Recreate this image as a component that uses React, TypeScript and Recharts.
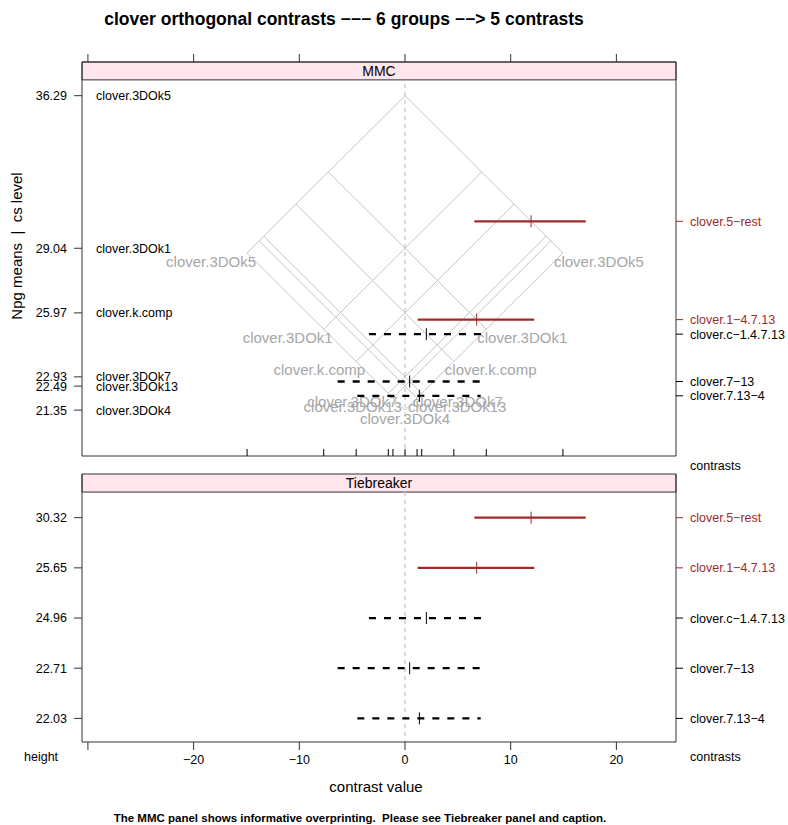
import { ScatterChart, Scatter, XAxis, YAxis, ReferenceLine, ReferenceArea } from 'recharts';

// group means (MMC panel, left axis)
const groupNames = ['clover.3DOk5', 'clover.3DOk1', 'clover.k.comp', 'clover.3DOk7', 'clover.3DOk13', 'clover.3DOk4'];
const groupMeans = [36.29, 29.04, 25.97, 22.93, 22.49, 21.35];

// contrasts (right axis)
const contrastNames = ['clover.5\u2212rest', 'clover.1\u22124.7.13', 'clover.c\u22121.4.7.13', 'clover.7\u221213', 'clover.7.13\u22124'];
const contrastEst = [11.93, 6.78, 2.02, 0.44, 1.36];
const contrastLower = [6.56, 1.2, -3.41, -6.37, -4.51];
const contrastUpper = [17.1, 12.23, 7.47, 7.26, 7.16];
const contrastHeight = [30.32, 25.65, 24.96, 22.71, 22.03];
const contrastSignif = [true, true, false, false, false];

const xTicks = [-30, -20, -10, 0, 10, 20];

const X_DOMAIN: [number, number] = [-30.56, 25.64];
const MMC_Y: [number, number] = [19.17, 37.89];
const MMC_STRIP = 37.04;
const TB_Y: [number, number] = [0.13, 5.47];
const TB_STRIP = 0.49;

const RED = '#9E2B2B';
const GRID = '#c4c4c4';
const AXIS = '#333';
const STRIP_FILL = '#FFE5EC';
const FONT = '"Liberation Sans", Arial, Helvetica, sans-serif';

const maxMean = Math.max(...groupMeans);
const minMean = Math.min(...groupMeans);

// isomeans grid: one pair of 45 degree lines per group
const isoSegments = groupMeans.flatMap((m) => [
    [{ x: m - maxMean, y: (m + maxMean) / 2 }, { x: m - minMean, y: (m + minMean) / 2 }],
    [{ x: maxMean - m, y: (m + maxMean) / 2 }, { x: minMean - m, y: (m + minMean) / 2 }],
]);

const isoLabels = groupNames.flatMap((name, i) => {
    const d = groupMeans[i] - minMean;
    const y = (groupMeans[i] + minMean) / 2;
    if (d === 0) return [{ x: 0, y, name, anchor: 'middle' }];
    return [
        { x: -d, y, name, anchor: 'end' },
        { x: d, y, name, anchor: 'start' },
    ];
});

const rug = groupMeans.flatMap((m) => {
    const d = m - minMean;
    return d === 0 ? [{ x: 0, y: MMC_Y[0] }] : [{ x: -d, y: MMC_Y[0] }, { x: d, y: MMC_Y[0] }];
});

const groupLabelPts = groupNames.map((name, i) => ({ x: X_DOMAIN[0], y: groupMeans[i], name }));

const mmcCenters = contrastNames.map((name, i) => ({ x: contrastEst[i], y: contrastHeight[i], i }));
const tbCenters = contrastNames.map((name, i) => ({ x: contrastEst[i], y: i + 1, i }));
const tbRows = contrastNames.map((_, i) => i + 1);

// eslint-disable-next-line @typescript-eslint/no-explicit-any
const CenterTick = (props: any) => {
    const { cx, cy, payload } = props;
    const col = contrastSignif[payload.i] ? RED : '#000';
    return <line x1={cx} x2={cx} y1={cy - 6} y2={cy + 6} stroke={col} strokeWidth={1} />;
};

// eslint-disable-next-line @typescript-eslint/no-explicit-any
const RugTick = (props: any) => <line x1={props.cx} x2={props.cx} y1={props.cy} y2={props.cy - 7} stroke="#000" strokeWidth={1} />;

// eslint-disable-next-line @typescript-eslint/no-explicit-any
const IsoLabel = (props: any) => {
    const { cx, cy, payload } = props;
    const dx = payload.anchor === 'end' ? 9 : payload.anchor === 'start' ? -9 : 0;
    return (
        <text x={cx + dx} y={cy + 14} textAnchor={payload.anchor} fontSize={15} fill="#a6a6a6">
            {payload.name}
        </text>
    );
};

// eslint-disable-next-line @typescript-eslint/no-explicit-any
const GroupLabel = (props: any) => (
    <text x={props.cx + 14} y={props.cy + 4.5} fontSize={12.5} fill="#000">
        {props.payload.name}
    </text>
);

// right-hand contrast names, coloured like their intervals
const contrastTick = (byIndex: boolean) =>
    // eslint-disable-next-line @typescript-eslint/no-explicit-any
    (props: any) => {
        const { x, y, payload } = props;
        const i = byIndex ? payload.value - 1 : contrastHeight.indexOf(payload.value);
        const col = contrastSignif[i] ? RED : '#000';
        return (
            <g>
                <line x1={x - 14} x2={x - 7} y1={y} y2={y} stroke={col} />
                <text x={x} y={y + 4.5} fontSize={12.5} fill={col} textAnchor="start">
                    {contrastNames[i]}
                </text>
            </g>
        );
    };

const fmtX = (v: number) => (v === -30 ? '' : v < 0 ? `\u2212${Math.abs(v)}` : String(v));

function CIs({ ys }: { ys: number[] }) {
    return (
        <>
            {contrastNames.map((n, i) => (
                <ReferenceLine
                    key={n}
                    segment={[{ x: contrastLower[i], y: ys[i] }, { x: contrastUpper[i], y: ys[i] }]}
                    stroke={contrastSignif[i] ? RED : '#000'}
                    strokeWidth={2.3}
                    strokeDasharray={contrastSignif[i] ? undefined : '7 8'}
                />
            ))}
        </>
    );
}

function MMCPanel() {
    return (
        <ScatterChart width={788} height={470} margin={{ top: 0, right: 0, bottom: 14, left: 0 }}>
            <XAxis type="number" dataKey="x" orientation="top" domain={X_DOMAIN} allowDataOverflow ticks={xTicks}
                height={62} tickSize={8} tickFormatter={() => ''} stroke={AXIS} />
            <YAxis type="number" dataKey="y" domain={MMC_Y} allowDataOverflow ticks={groupMeans} interval={0}
                width={82} tickSize={8} tickMargin={7} stroke={AXIS}
                tick={{ fill: '#000', fontSize: 12.5 }} tickFormatter={(v: number) => v.toFixed(2)} />
            <YAxis yAxisId="r" orientation="right" type="number" dataKey="y" domain={MMC_Y} allowDataOverflow
                ticks={contrastHeight} interval={0} width={112} tickSize={7} tickMargin={7} stroke={AXIS}
                tickLine={false} tick={contrastTick(false)} />
            <ReferenceArea x1={X_DOMAIN[0]} x2={X_DOMAIN[1]} y1={MMC_STRIP} y2={MMC_Y[1]} fill={STRIP_FILL} fillOpacity={1}
                stroke={AXIS} label={{ value: 'MMC', position: 'center', fontSize: 14, fill: '#000' }} />
            <ReferenceLine y={MMC_Y[0]} stroke={AXIS} />
            <ReferenceLine segment={[{ x: 0, y: MMC_Y[0] }, { x: 0, y: MMC_STRIP }]} stroke="#cfcfcf" strokeWidth={1.5} strokeDasharray="4 4" />
            {isoSegments.map((seg, i) => (
                <ReferenceLine key={`iso-${i}`} segment={seg} stroke={GRID} strokeWidth={1} />
            ))}
            <CIs ys={contrastHeight} />
            <Scatter data={isoLabels} shape={IsoLabel} isAnimationActive={false} />
            <Scatter data={groupLabelPts} shape={GroupLabel} isAnimationActive={false} />
            <Scatter data={rug} shape={RugTick} isAnimationActive={false} />
            <Scatter yAxisId="r" data={mmcCenters} shape={CenterTick} isAnimationActive={false} />
        </ScatterChart>
    );
}

function TiebreakerPanel() {
    return (
        <ScatterChart width={788} height={825} margin={{ top: 474, right: 0, bottom: 0, left: 0 }}>
            <XAxis type="number" dataKey="x" domain={X_DOMAIN} allowDataOverflow ticks={xTicks} height={83}
                tickSize={8} tickMargin={5} stroke={AXIS} tick={{ fill: '#000', fontSize: 12.5 }} tickFormatter={fmtX} />
            <YAxis type="number" dataKey="y" reversed domain={TB_Y} allowDataOverflow ticks={tbRows} interval={0}
                width={82} tickSize={8} tickMargin={7} stroke={AXIS} tick={{ fill: '#000', fontSize: 12.5 }}
                tickFormatter={(v: number) => contrastHeight[v - 1].toFixed(2)} />
            <YAxis yAxisId="r" orientation="right" type="number" dataKey="y" reversed domain={TB_Y} allowDataOverflow
                ticks={tbRows} interval={0} width={112} tickSize={7} tickMargin={7} stroke={AXIS}
                tickLine={false} tick={contrastTick(true)} />
            <ReferenceArea x1={X_DOMAIN[0]} x2={X_DOMAIN[1]} y1={TB_Y[0]} y2={TB_STRIP} fill={STRIP_FILL} fillOpacity={1}
                stroke={AXIS} label={{ value: 'Tiebreaker', position: 'center', fontSize: 14, fill: '#000' }} />
            <ReferenceLine segment={[{ x: 0, y: TB_STRIP }, { x: 0, y: TB_Y[1] }]} stroke="#cfcfcf" strokeWidth={1.5} strokeDasharray="4 4" />
            <CIs ys={tbRows} />
            <Scatter yAxisId="r" data={tbCenters} shape={CenterTick} isAnimationActive={false} />
        </ScatterChart>
    );
}

export default function App() {
    return (
        <div style={{ position: 'absolute', left: 0, top: 0, width: 788, height: 825, background: '#fff', fontFamily: FONT }}>
            <div style={{ position: 'absolute', left: 0, top: 0 }}>
                <TiebreakerPanel />
            </div>
            <div style={{ position: 'absolute', left: 0, top: 0 }}>
                <MMCPanel />
            </div>
            <svg width={788} height={825} style={{ position: 'absolute', left: 0, top: 0, pointerEvents: 'none' }}>
                <text x={344} y={25} textAnchor="middle" fontSize={17.5} fontWeight="bold">
                    {'clover orthogonal contrasts \u2212\u2212\u2212 6 groups \u2212\u2212> 5 contrasts'}
                </text>
                <text transform="translate(22,246) rotate(-90)" textAnchor="middle" fontSize={15} xmlSpace="preserve">
                    {'Npg means  |  cs level'}
                </text>
                <text x={690} y={470} fontSize={12.5}>contrasts</text>
                <text x={24} y={761} fontSize={12.5}>height</text>
                <text x={690} y={761} fontSize={12.5}>contrasts</text>
                <text x={376} y={792} textAnchor="middle" fontSize={15}>contrast value</text>
                <text x={360} y={822} textAnchor="middle" fontSize={11.5} fontWeight="bold" xmlSpace="preserve">
                    {'The MMC panel shows informative overprinting.  Please see Tiebreaker panel and caption.'}
                </text>
            </svg>
        </div>
    );
}
